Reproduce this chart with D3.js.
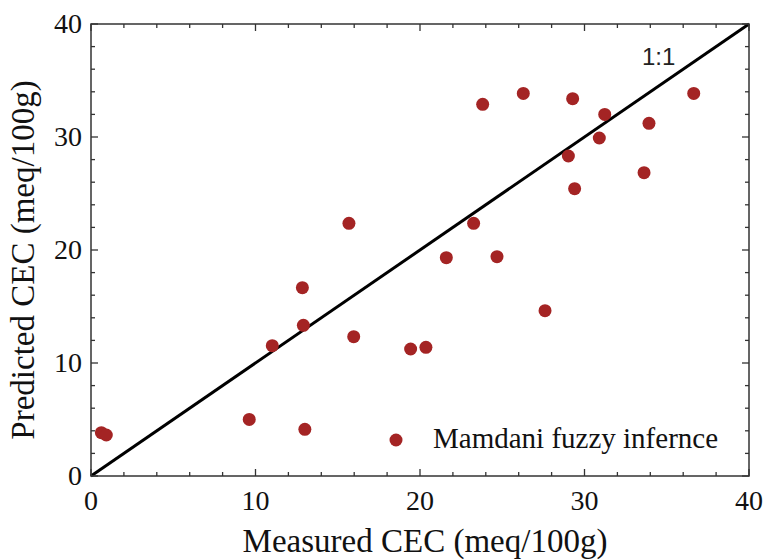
<!DOCTYPE html>
<html><head><meta charset="utf-8">
<script src="https://cdn.jsdelivr.net/npm/d3@7/dist/d3.min.js"></script>
<style>body{margin:0;background:#fff}svg{display:block}</style>
</head><body>
<script>
const measured = [0.63,0.93,9.62,13.0,11.02,12.91,12.85,15.68,15.97,19.43,20.36,21.6,23.26,24.68,23.81,26.28,27.6,29.28,29.02,29.4,30.9,31.23,33.92,33.62,36.64];
const predicted = [3.83,3.63,5.01,4.13,11.53,13.33,16.67,22.36,12.33,11.24,11.39,19.32,22.36,19.41,32.89,33.86,14.63,33.39,28.32,25.43,29.91,32.0,31.21,26.84,33.86];
const majorTicks = [0,10,20,30,40];
const minorTicks = d3.range(0,41,2);
const xTitle = "Measured CEC (meq/100g)";
const yTitle = "Predicted CEC (meq/100g)";
const legendLabel = "Mamdani fuzzy infernce";
const lineLabel = "1:1";

const W=763,H=560;
const m={l:91,r:14,t:24,b:84};
const svg=d3.select("body").append("svg").attr("width",W).attr("height",H);
const x=d3.scaleLinear().domain([0,40]).range([m.l,W-m.r]);
const y=d3.scaleLinear().domain([0,40]).range([H-m.b,m.t]);
const serif="'Liberation Serif','Times New Roman',serif";
const dotColor="#a42424";

// 1:1 line
svg.append("line").attr("x1",x(0)).attr("y1",y(0)).attr("x2",x(40)).attr("y2",y(40))
  .attr("stroke","#000").attr("stroke-width",3);

// points
svg.append("g").selectAll("circle").data(measured.map((v,i)=>[v,predicted[i]])).join("circle")
  .attr("cx",d=>x(d[0])).attr("cy",d=>y(d[1])).attr("r",6.5).attr("fill",dotColor);

// frame
svg.append("rect").attr("x",x(0)).attr("y",y(40)).attr("width",x(40)-x(0)).attr("height",y(0)-y(40))
  .attr("fill","none").attr("stroke","#333").attr("stroke-width",1.5);

// ticks (inward, all four sides)
const tickLen=d=>d%10===0?7:4;
const tg=svg.append("g").attr("stroke","#333").attr("stroke-width",1.3);
minorTicks.forEach(d=>{
  tg.append("line").attr("x1",x(d)).attr("x2",x(d)).attr("y1",y(0)).attr("y2",y(0)-tickLen(d));
  tg.append("line").attr("x1",x(d)).attr("x2",x(d)).attr("y1",y(40)).attr("y2",y(40)+tickLen(d));
  tg.append("line").attr("y1",y(d)).attr("y2",y(d)).attr("x1",x(0)).attr("x2",x(0)+tickLen(d));
  tg.append("line").attr("y1",y(d)).attr("y2",y(d)).attr("x1",x(40)).attr("x2",x(40)-tickLen(d));
});

// tick labels
svg.append("g").selectAll("text").data(majorTicks).join("text")
  .attr("x",d=>x(d)).attr("y",y(0)+34).attr("text-anchor","middle")
  .attr("font-family",serif).attr("font-size",28).attr("fill","#111").text(d=>d);
svg.append("g").selectAll("text").data(majorTicks).join("text")
  .attr("x",x(0)-9).attr("y",d=>y(d)+9).attr("text-anchor","end")
  .attr("font-family",serif).attr("font-size",28).attr("fill","#111").text(d=>d);

// axis titles
svg.append("text").attr("x",425).attr("y",552).attr("text-anchor","middle")
  .attr("font-family",serif).attr("font-size",33).attr("fill","#111").text(xTitle);
svg.append("text").attr("transform","translate(34,260) rotate(-90)").attr("text-anchor","middle")
  .attr("font-family",serif).attr("font-size",33).attr("fill","#111").text(yTitle);

// 1:1 label
svg.append("text").attr("x",642).attr("y",65)
  .attr("font-family","'Liberation Sans',Arial,sans-serif").attr("font-size",24).attr("fill","#222").text(lineLabel);

// legend
svg.append("circle").attr("cx",396).attr("cy",440).attr("r",6.5).attr("fill",dotColor);
svg.append("text").attr("x",433).attr("y",448)
  .attr("font-family",serif).attr("font-size",29).attr("fill","#111").text(legendLabel);
</script>
</body></html>
